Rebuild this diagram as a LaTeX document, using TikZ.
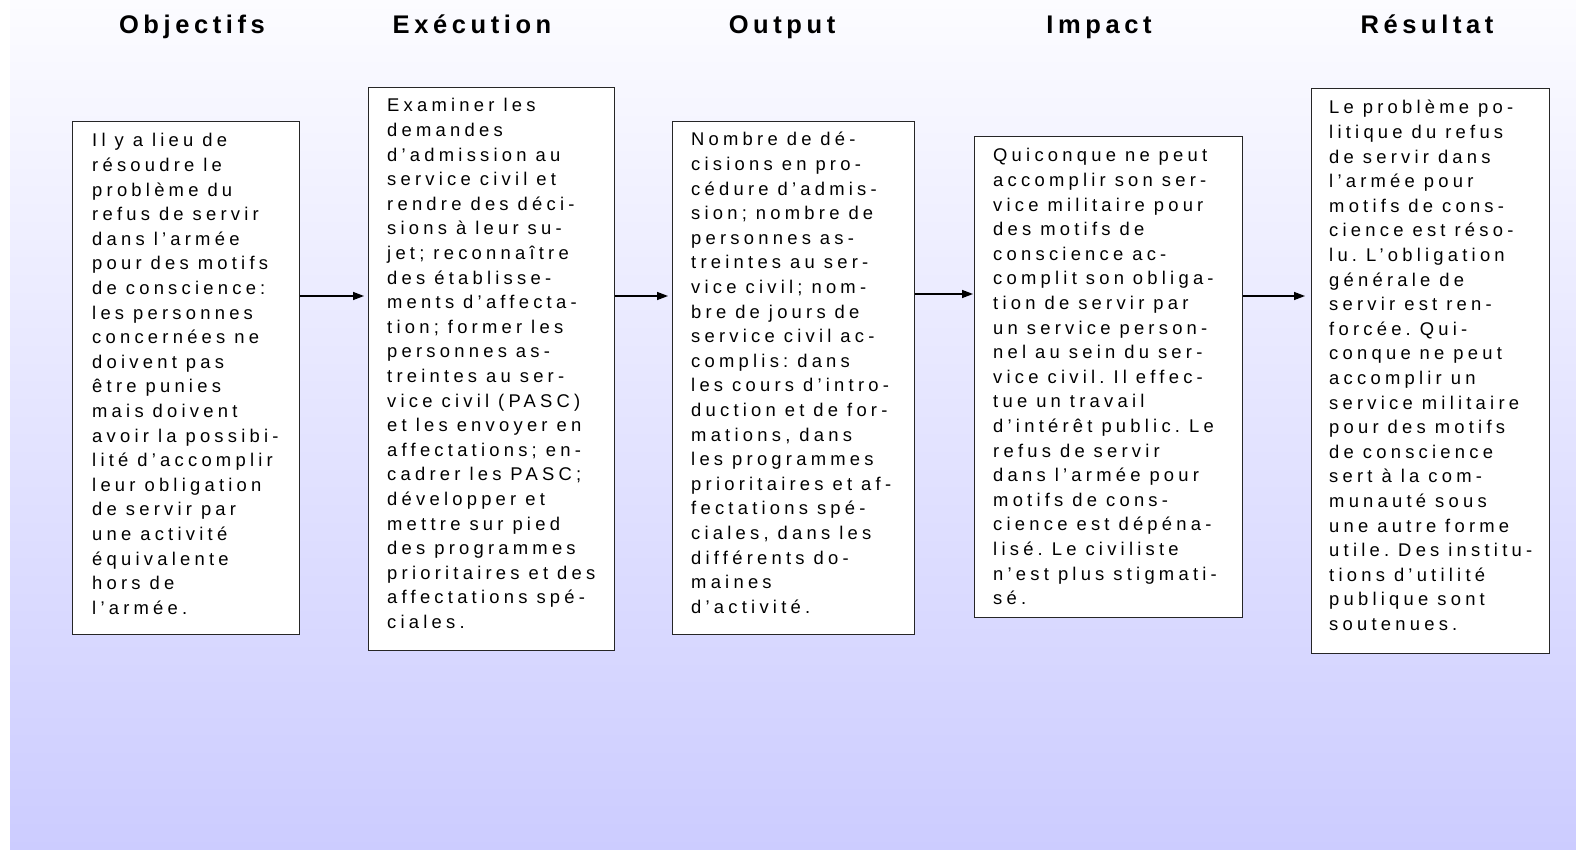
\documentclass[tikz,border=0pt]{standalone}
\usepackage{fontspec}
\setmainfont{Liberation Sans}
\newfontfamily\bodyfont[LetterSpace=23]{Liberation Sans}
\newfontfamily\headfont[LetterSpace=18]{Liberation Sans}
\newcommand\bodyfmt{\bodyfont\fontsize{18.4}{24.6}\selectfont}
\newcommand\ws{\hspace{9pt}}
\usetikzlibrary{arrows.meta,calc}
\definecolor{bgtop}{RGB}{252,252,255}
\definecolor{bgbot}{RGB}{204,204,255}
\begin{document}
\begin{tikzpicture}[x=1pt,y=-1pt,
  box/.style={draw=black!85, line width=1.2pt, fill=white, anchor=north west, inner sep=0pt},
  body/.style={anchor=base west, inner sep=0pt, text width=260pt, align=left, font=\bodyfmt},
  head/.style={anchor=base, inner sep=0pt, font=\headfont\bfseries\fontsize{25.5}{28}\selectfont},
  link/.style={line width=1.4pt, -{Triangle[length=11pt,width=8pt]}}]
\fill[white] (0,0) rectangle (1576,850);
\useasboundingbox (0,0) rectangle (1576,850);
\shade[top color=bgtop, bottom color=bgbot] (10,0) rectangle (1576,850);

% headers
\node[head] (h1) at (192,34) {Objectifs};
\node[head] (h2) at (472,34) {Exécution};
\node[head] (h3) at (782,34) {Output};
\node[head] (h4) at (1099,34) {Impact};
\node[head] (h5) at (1427,34) {Résultat};

% boxes
\node[box, minimum width=227pt, minimum height=513pt] (b1) at (72,121) {};
\node[box, minimum width=246pt, minimum height=563pt] (b2) at (368,87) {};
\node[box, minimum width=242pt, minimum height=513pt] (b3) at (672,121) {};
\node[box, minimum width=268pt, minimum height=481pt] (b4) at (974,136) {};
\node[box, minimum width=238pt, minimum height=565pt] (b5) at (1311,88) {};

% texts
\node[body] (t1) at (92,147) {Il\ws y\ws a\ws lieu\ws de\\
résoudre\ws le\\
problème\ws du\\
refus\ws de\ws servir\\
dans\ws l’armée\\
pour\ws des\ws motifs\\
de\ws conscience:\\
les\ws personnes\\
concernées\ws ne\\
doivent\ws pas\\
être\ws punies\\
mais\ws doivent\\
avoir\ws la\ws possibi-\\
lité\ws d’accomplir\\
leur\ws obligation\\
de\ws servir\ws par\\
une\ws activité\\
équivalente\\
hors\ws de\\
l’armée.};

\node[body] (t2) at (387,112) {Examiner\ws les\\
demandes\\
d’admission\ws au\\
service\ws civil\ws et\\
rendre\ws des\ws déci-\\
sions\ws à\ws leur\ws su-\\
jet;\ws reconnaître\\
des\ws établisse-\\
ments\ws d’affecta-\\
tion;\ws former\ws les\\
personnes\ws as-\\
treintes\ws au\ws ser-\\
vice\ws civil\ws (PASC)\\
et\ws les\ws envoyer\ws en\\
affectations;\ws en-\\
cadrer\ws les\ws PASC;\\
développer\ws et\\
mettre\ws sur\ws pied\\
des\ws programmes\\
prioritaires\ws et\ws des\\
affectations\ws spé-\\
ciales.};

\node[body] (t3) at (691,146) {Nombre\ws de\ws dé-\\
cisions\ws en\ws pro-\\
cédure\ws d’admis-\\
sion;\ws nombre\ws de\\
personnes\ws as-\\
treintes\ws au\ws ser-\\
vice\ws civil;\ws nom-\\
bre\ws de\ws jours\ws de\\
service\ws civil\ws ac-\\
complis:\ws dans\\
les\ws cours\ws d’intro-\\
duction\ws et\ws de\ws for-\\
mations,\ws dans\\
les\ws programmes\\
prioritaires\ws et\ws af-\\
fectations\ws spé-\\
ciales,\ws dans\ws les\\
différents\ws do-\\
maines\\
d’activité.};

\node[body] (t4) at (993,162) {Quiconque\ws ne\ws peut\\
accomplir\ws son\ws ser-\\
vice\ws militaire\ws pour\\
des\ws motifs\ws de\\
conscience\ws ac-\\
complit\ws son\ws obliga-\\
tion\ws de\ws servir\ws par\\
un\ws service\ws person-\\
nel\ws au\ws sein\ws du\ws ser-\\
vice\ws civil.\ws Il\ws effec-\\
tue\ws un\ws travail\\
d’intérêt\ws public.\ws Le\\
refus\ws de\ws servir\\
dans\ws l’armée\ws pour\\
motifs\ws de\ws cons-\\
cience\ws est\ws dépéna-\\
lisé.\ws Le\ws civiliste\\
n’est\ws plus\ws stigmati-\\
sé.};

\node[body] (t5) at (1329,114) {Le\ws problème\ws po-\\
litique\ws du\ws refus\\
de\ws servir\ws dans\\
l’armée\ws pour\\
motifs\ws de\ws cons-\\
cience\ws est\ws réso-\\
lu.\ws L’obligation\\
générale\ws de\\
servir\ws est\ws ren-\\
forcée.\ws Qui-\\
conque\ws ne\ws peut\\
accomplir\ws un\\
service\ws militaire\\
pour\ws des\ws motifs\\
de\ws conscience\\
sert\ws à\ws la\ws com-\\
munauté\ws sous\\
une\ws autre\ws forme\\
utile.\ws Des\ws institu-\\
tions\ws d’utilité\\
publique\ws sont\\
soutenues.};

% arrows
\coordinate (y1) at (0,296);
\coordinate (y2) at (0,296);
\coordinate (y3) at (0,294);
\coordinate (y4) at (0,296);
\draw[link] (b1.east |- y1) -- ($(b2.west |- y1)+(-4,0)$);
\draw[link] (b2.east |- y2) -- ($(b3.west |- y2)+(-4,0)$);
\draw[link] (b3.east |- y3) -- ($(b4.west |- y3)+(-1,0)$);
\draw[link] (b4.east |- y4) -- ($(b5.west |- y4)+(-6,0)$);
\end{tikzpicture}
\end{document}
